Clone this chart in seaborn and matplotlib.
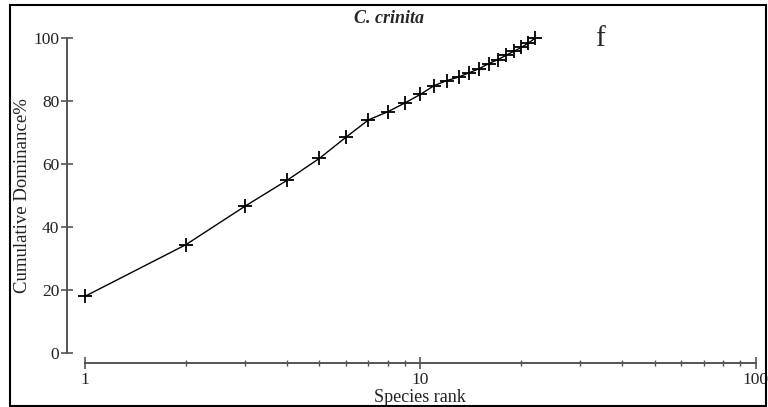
# Import Libraries
import pandas as pd
import matplotlib.pyplot as plt
import seaborn as sns
from matplotlib.patches import Rectangle
from matplotlib.ticker import LogLocator, NullFormatter, FixedLocator, FixedFormatter

# Data
ranks = list(range(1, 23))
cum_dominance = [18.0, 34.4, 46.6, 54.8, 61.8, 68.5, 74.0, 76.6, 79.4, 82.1,
                 84.9, 86.5, 87.6, 89.0, 90.3, 91.9, 93.1, 94.5, 95.8, 97.0,
                 98.4, 100.0]
y_ticks = [0, 20, 40, 60, 80, 100]
x_ticks = [1, 10, 100]
x_tick_labels = ["1", "10", "100"]

df = pd.DataFrame({"Species rank": ranks, "Cumulative Dominance%": cum_dominance})

sns.set_theme(style="ticks")
plt.rcParams['font.family'] = ['Liberation Serif', 'DejaVu Serif']

fig = plt.figure(figsize=(7.68, 4.07), dpi=100)
ax = fig.add_axes([0.1107, 0.1327, 0.8733, 0.7739])

sns.lineplot(data=df, x="Species rank", y="Cumulative Dominance%", ax=ax,
             color="black", linewidth=1.0, marker="+", markersize=10,
             markeredgewidth=1.3, markeredgecolor="black", clip_on=False)

ax.set_xscale("log")
ax.set_xlim(1, 100)
ax.set_ylim(0, 100)

ax.xaxis.set_major_locator(FixedLocator(x_ticks))
ax.xaxis.set_major_formatter(FixedFormatter(x_tick_labels))
ax.xaxis.set_minor_locator(LogLocator(base=10, subs=range(2, 10)))
ax.xaxis.set_minor_formatter(NullFormatter())
ax.set_yticks(y_ticks)

# detached axes like the original software
sns.despine(ax=ax)
ax.spines['left'].set_position(('outward', 13))
ax.spines['bottom'].set_position(('outward', 7))
for s in ['left', 'bottom']:
    ax.spines[s].set_color("#555555")
    ax.spines[s].set_linewidth(1.4)

ax.tick_params(axis='both', which='major', direction='inout', length=9,
               width=1.2, color="#555555", labelsize=12.5, labelcolor="#222222",
               bottom=True, left=True)
ax.tick_params(axis='x', which='minor', direction='inout', length=4,
               width=1.0, color="#555555", bottom=True)
ax.tick_params(axis='y', pad=1)
ax.tick_params(axis='x', pad=2)

ax.set_xlabel("Species rank", fontsize=13, color="#222222", labelpad=1)
ax.set_ylabel("Cumulative Dominance%", fontsize=13.5, color="#222222")
ax.yaxis.set_label_coords(-0.08, 0.5)

fig.text(0.507, 0.955, "C. crinita", ha="center", va="center",
         fontsize=13, fontweight="bold", fontstyle="italic")
fig.text(0.781, 0.905, "f", ha="center", va="center", fontsize=21)

# outer frame
fig.patches.append(Rectangle((0.013, 0.003), 0.985, 0.985, transform=fig.transFigure,
                             fill=False, edgecolor="black", linewidth=1.5))

plt.savefig("out.png", dpi=100)
